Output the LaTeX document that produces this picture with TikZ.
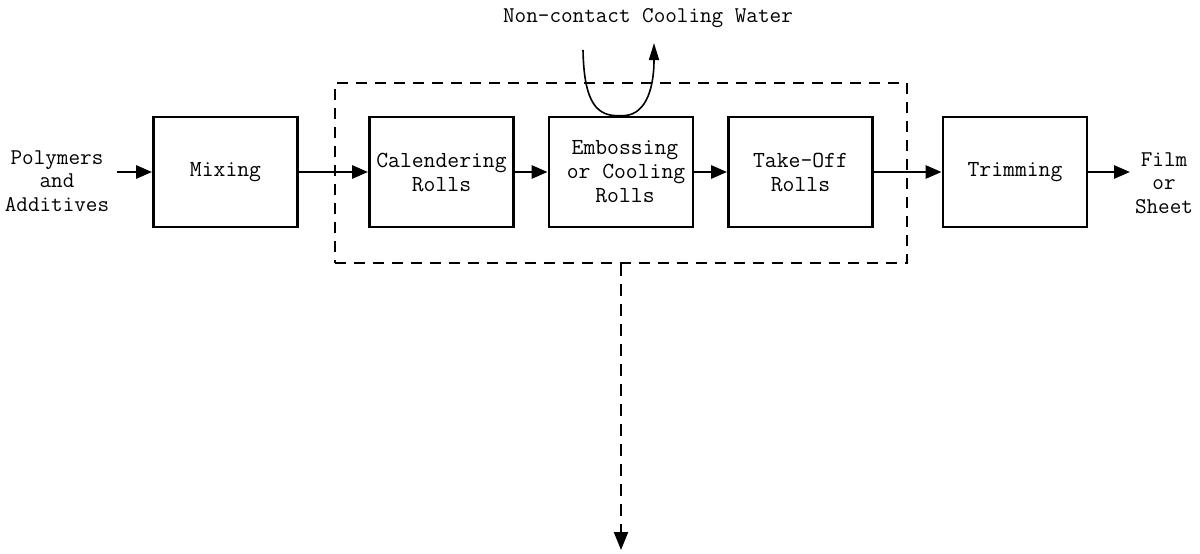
\documentclass[tikz,border=0pt]{standalone}
\usetikzlibrary{arrows.meta}
\begin{document}
\begin{tikzpicture}[x=1pt,y=-1pt,
  box/.style={draw,line width=2.8pt,minimum width=144pt,minimum height=110pt,inner sep=0pt,align=center,
    font=\fontsize{23}{24}\selectfont\ttfamily},
  lbl/.style={inner sep=0pt,align=center,font=\fontsize{22.5}{23.5}\selectfont\ttfamily},
  arr/.style={line width=2.8pt,-{Triangle[length=16pt,width=13pt]}},
  grpbox/.style={draw,line width=2.2pt,dash pattern=on 11pt off 8pt,minimum width=572pt,minimum height=180pt,inner sep=0pt},
  dashedarr/.style={line width=2.2pt,dash pattern=on 12pt off 8pt,-{Triangle[length=18pt,width=14pt]}},
  thinarr/.style={line width=1.6pt,-{Triangle[length=17pt,width=10pt]}}]
\useasboundingbox (0,0) rectangle (1200,554);
\node[grpbox] (grp) at (621,173) {};
\node[box] (mix) at (225.5,172) {Mixing};
\node[box] (cal) at (441.5,172) {Calendering\\Rolls};
\node[box] (emb) at (621,172) {\hspace*{8pt}Embossing\\\hspace*{10pt}or Cooling\\\hspace*{8pt}Rolls};
\node[box] (tak) at (800.5,172) {Take-Off\\Rolls};
\node[box] (trim) at (1015,172) {Trimming};
\node[lbl] (inlbl) at (57,181) {Polymers\\and\\Additives};
\node[lbl] (outlbl) at (1164,183) {Film\\or\\Sheet};
\node[lbl,font=\fontsize{22.5}{23.5}\selectfont\ttfamily] (cwlbl) at (648,18) {Non-contact Cooling Water};
\coordinate (inA) at (117,172);
\coordinate (outA) at (1130,172);
\coordinate (cwIn) at (583,50);
\coordinate (cwOut) at (654,43);
\coordinate (down) at (621,550);
\draw[arr] (inA) -- (mix.west);
\draw[arr] (mix.east) -- (cal.west);
\draw[arr] (cal.east) -- (emb.west);
\draw[arr] (emb.east) -- (tak.west);
\draw[arr] (tak.east) -- (trim.west);
\draw[arr] (trim.east) -- (outA);
\draw[thinarr] (cwIn) .. controls (584,105) and (598,117) .. (emb.north) .. controls (644,117) and (654,92) .. (cwOut);
\draw[dashedarr] (grp.south) -- (down);
\end{tikzpicture}
\end{document}
